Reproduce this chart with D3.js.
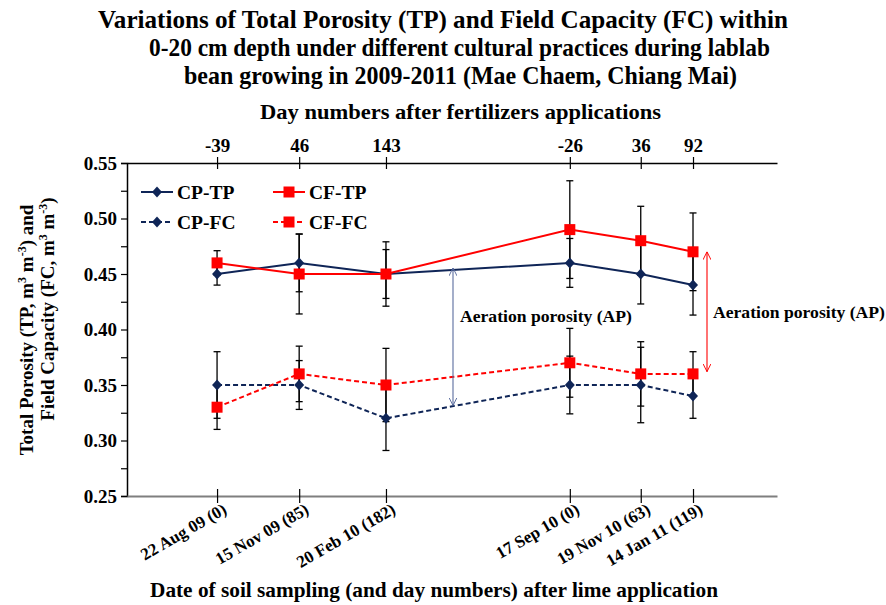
<!DOCTYPE html>
<html><head><meta charset="utf-8">
<script src="https://cdn.jsdelivr.net/npm/d3@7"></script>
<style>
body{margin:0;background:#fff}
</style>
</head><body>
<svg id="chart" width="886" height="605" font-family="Liberation Serif" font-weight="bold"></svg>
<script>
// ---------- data ----------
const sampleLabels = ["22 Aug 09 (0)","15 Nov 09 (85)","20 Feb 10 (182)","17 Sep 10 (0)","19 Nov 10 (63)","14 Jan 11 (119)"];
const fertLabels   = ["-39","46","143","-26","36","92"];
const xPos   = [0, 88, 181, 378, 454, 510];   // sampling positions along the time axis
const cpTP   = [0.45, 0.46, 0.45, 0.46, 0.45, 0.44];
const cfTP   = [0.46, 0.45, 0.45, 0.49, 0.48, 0.47];
const cpFC   = [0.35, 0.35, 0.32, 0.35, 0.35, 0.34];
const cfFC   = [0.33, 0.36, 0.35, 0.37, 0.36, 0.36];
const cpTPerr = [0.010, 0.026, 0.029, 0.022, 0.027, 0.027];
const cfTPerr = [0.011, 0.036, 0.022, 0.044, 0.031, 0.035];
const cpFCerr = [0.030, 0.022, 0.029, 0.026, 0.034, 0.020];
const cfFCerr = [0.020, 0.025, 0.033, 0.031, 0.029, 0.020];
const yTicks = [0.25,0.275,0.30,0.325,0.35,0.375,0.40,0.425,0.45,0.475,0.50,0.525,0.55];
const yDomain = [0.25, 0.55];
const xDomain = [-96.5, 600];

const FONT = "Liberation Serif";
const NAVY = "#0f2557", RED = "#ff0000";
const series = [
  {name:"CP-TP", vals:cpTP, err:cpTPerr, color:NAVY, dash:null, marker:"diamond"},
  {name:"CF-TP", vals:cfTP, err:cfTPerr, color:RED,  dash:null, marker:"square"},
  {name:"CP-FC", vals:cpFC, err:cpFCerr, color:NAVY, dash:"5,3", marker:"diamond"},
  {name:"CF-FC", vals:cfFC, err:cfFCerr, color:RED,  dash:"5,3", marker:"square"}
];

const svg = d3.select("#chart");
const L = 127, R = 777, T = 163, B = 496;
const x = d3.scaleLinear().domain(xDomain).range([L, R]);
const y = d3.scaleLinear().domain(yDomain).range([B, T]);

function txt(g){ return g.append("text").attr("font-family",FONT).attr("font-weight","bold").attr("fill","#000"); }

// ---------- titles ----------
const titleLines = [
  {t:"Variations of Total Porosity (TP) and Field Capacity (FC) within", cx:443, y:28, w:690},
  {t:"0-20 cm depth under different cultural practices during lablab", cx:459.5, y:56, w:621},
  {t:"bean growing in 2009-2011 (Mae Chaem, Chiang Mai)", cx:460.5, y:84, w:553}
];
titleLines.forEach(l => txt(svg).attr("x", l.cx).attr("y", l.y)
  .attr("text-anchor","middle").attr("font-size", 26)
  .attr("textLength", l.w).attr("lengthAdjust","spacingAndGlyphs").text(l.t));

txt(svg).attr("x", 460.5).attr("y", 119).attr("text-anchor","middle")
  .attr("font-size", 21).attr("textLength", 401).attr("lengthAdjust","spacingAndGlyphs")
  .text("Day numbers after fertilizers applications");
txt(svg).attr("x", 434).attr("y", 597).attr("text-anchor","middle")
  .attr("font-size", 21).attr("textLength", 568).attr("lengthAdjust","spacingAndGlyphs")
  .text("Date of soil sampling (and day numbers) after lime application");

// y axis title (two rotated lines)
function yTitle(cx, cy, parts){
  const t = txt(svg).attr("transform", `translate(${cx},${cy}) rotate(-90)`)
    .attr("text-anchor","middle").attr("font-size", 19);
  parts.forEach(p => {
    const s = t.append("tspan").text(p[0]);
    if (p[1]) s.attr("baseline-shift","super").attr("font-size", 12);
  });
}
yTitle(33, 330, [["Total Porosity (TP, m"],["3",1],[" m"],["-3",1],[") and"]]);
yTitle(54, 309, [["Field Capacity (FC, m"],["3",1],[" m"],["-3",1],[")"]]);

// ---------- axes ----------
const gy = svg.append("g").attr("transform", `translate(${L},0)`)
  .call(d3.axisLeft(y).tickValues(yTicks).tickSize(6).tickPadding(4)
    .tickFormat(d => (Math.round(d*1000) % 50 === 0) ? d3.format(".2f")(d) : ""));
gy.attr("font-family",FONT).attr("font-weight","bold").attr("font-size",19);
gy.select(".domain").attr("stroke","#000").attr("stroke-width",1.5);
gy.selectAll(".tick line").attr("stroke","#000").attr("stroke-width",1.2);
gy.selectAll(".tick text").attr("fill","#000");

const gTop = svg.append("g").attr("transform", `translate(0,${T})`)
  .call(d3.axisTop(x).tickValues(xPos).tickSizeOuter(0).tickFormat((d,i) => fertLabels[i]));
gTop.attr("font-family",FONT).attr("font-weight","bold").attr("font-size",19);
gTop.select(".domain").attr("stroke","#000").attr("stroke-width",1.3);
gTop.selectAll(".tick line").attr("y1",-6).attr("y2",6).attr("stroke","#000").attr("stroke-width",1.2);
gTop.selectAll(".tick text").attr("y",-11).attr("dy","0").attr("fill","#000");

const gBot = svg.append("g").attr("transform", `translate(0,${B})`)
  .call(d3.axisBottom(x).tickValues(xPos).tickSizeOuter(0).tickFormat(""));
gBot.select(".domain").attr("stroke","#7f7f7f").attr("stroke-width",2);
gBot.selectAll(".tick line").attr("y1",-7).attr("y2",7).attr("stroke","#000").attr("stroke-width",1.2);

const gLab = svg.append("g");
xPos.forEach((d,i) => txt(gLab)
  .attr("transform", `translate(${x(d)+4},${B+5}) rotate(-30)`)
  .attr("text-anchor","end").attr("dy","0.8em").attr("font-size",17)
  .text(sampleLabels[i]));

// ---------- error bars ----------
const gErr = svg.append("g").attr("stroke","#000").attr("stroke-width",1.3);
series.forEach(s => {
  xPos.forEach((xv, i) => {
    const px = x(xv), y1 = y(s.vals[i] + s.err[i]), y2 = y(s.vals[i] - s.err[i]);
    gErr.append("line").attr("x1",px).attr("x2",px).attr("y1",y1).attr("y2",y2);
    [y1,y2].forEach(yy => gErr.append("line").attr("x1",px-3.5).attr("x2",px+3.5).attr("y1",yy).attr("y2",yy));
  });
});

// ---------- lines & markers ----------
const line = d3.line().x((d,i) => x(xPos[i])).y(d => y(d));
function diamondPath(cx, cy){ return `M${cx},${cy-5.5}L${cx+5},${cy}L${cx},${cy+5.5}L${cx-5},${cy}Z`; }
function drawMarker(g, s, cx, cy){
  if (s.marker === "square") g.append("rect").attr("x",cx-5.5).attr("y",cy-5.5).attr("width",11).attr("height",11).attr("fill",s.color);
  else g.append("path").attr("d", diamondPath(cx,cy)).attr("fill", s.color);
}
series.forEach(s => {
  svg.append("path").datum(s.vals).attr("d", line).attr("fill","none")
    .attr("stroke", s.color).attr("stroke-width", 2).attr("stroke-dasharray", s.dash);
});
series.forEach(s => {
  const g = svg.append("g");
  s.vals.forEach((v,i) => drawMarker(g, s, x(xPos[i]), y(v)));
});

// ---------- legend ----------
const legendPos = [[141,192],[273,192],[141,222],[273,222]];
series.forEach((s,i) => {
  const [lx, ly] = legendPos[i];
  const g = svg.append("g");
  g.append("line").attr("x1",lx).attr("x2",lx+32).attr("y1",ly).attr("y2",ly)
    .attr("stroke",s.color).attr("stroke-width",2).attr("stroke-dasharray", s.dash);
  drawMarker(g, s, lx+16, ly);
  txt(g).attr("x", lx+36).attr("y", ly+6.5).attr("font-size",19.5).text(s.name);
});

// ---------- aeration porosity annotations ----------
const defs = svg.append("defs");
function arrowMarker(id, color){
  defs.append("marker").attr("id",id).attr("viewBox","0 0 10 10").attr("refX",10).attr("refY",5)
    .attr("markerWidth",8).attr("markerHeight",8).attr("markerUnits","userSpaceOnUse").attr("orient","auto-start-reverse")
    .append("path").attr("d","M0,0L10,5L0,10").attr("fill","none").attr("stroke",color).attr("stroke-width",1.2);
}
arrowMarker("arrB","#5a6c9e");
arrowMarker("arrR",RED);
const apBlueX = 453;
svg.append("line").attr("x1",apBlueX).attr("x2",apBlueX).attr("y1",y(0.4555)).attr("y2",y(0.3315))
  .attr("stroke","#5a6c9e").attr("stroke-width",1.1)
  .attr("marker-start","url(#arrB)").attr("marker-end","url(#arrB)");
txt(svg).attr("x",460).attr("y",322).attr("font-size",16.5).attr("textLength",172)
  .attr("lengthAdjust","spacingAndGlyphs").text("Aeration porosity (AP)");
const apRedX = 707;
svg.append("line").attr("x1",apRedX).attr("x2",apRedX).attr("y1",y(0.470)).attr("y2",y(0.362))
  .attr("stroke",RED).attr("stroke-width",1.1)
  .attr("marker-start","url(#arrR)").attr("marker-end","url(#arrR)");
txt(svg).attr("x",713).attr("y",318).attr("font-size",16.5).attr("textLength",172)
  .attr("lengthAdjust","spacingAndGlyphs").text("Aeration porosity (AP)");
</script>
</body></html>
